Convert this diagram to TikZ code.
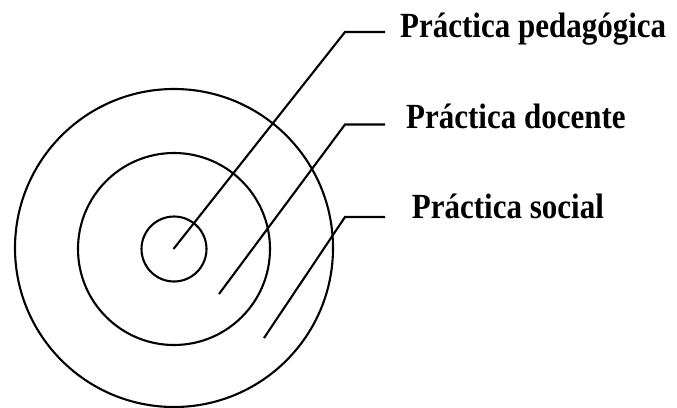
\documentclass[tikz,border=0pt]{standalone}
\usepackage{fontspec}
\setmainfont{Liberation Serif}
\begin{document}
\begin{tikzpicture}[x=1pt,y=-1pt,
  ring/.style={draw=black,line width=2.1pt,circle,inner sep=0pt},
  leader/.style={draw=black,line width=2.1pt},
  lbl/.style={anchor=base west,inner sep=0pt,font=\fontsize{31}{36}\selectfont\bfseries}]
\useasboundingbox (0,0) rectangle (677,407);
\node[ring,minimum size=318pt] (outer) at (174,248) {};
\node[ring,minimum size=192pt] (middle) at (174,249) {};
\node[ring,minimum size=65pt] (inner) at (174,249) {};
\coordinate (p1) at (173.5,249);
\coordinate (p2) at (219,294);
\coordinate (p3) at (264,338);
\coordinate (b1) at (345,32);
\coordinate (b2) at (345,124.5);
\coordinate (b3) at (345,217);
\coordinate (e1) at (385,32);
\coordinate (e2) at (385,124.5);
\coordinate (e3) at (385,217);
\node[lbl] (t1) at (400,37.3) {\scalebox{1}[1.14]{Práctica pedagógica}};
\node[lbl] (t2) at (406,128.3) {\scalebox{1}[1.14]{Práctica docente}};
\node[lbl] (t3) at (411.7,218.3) {\scalebox{1}[1.14]{Práctica social}};
\draw[leader] (p1) -- (b1) -- (e1);
\draw[leader] (p2) -- (b2) -- (e2);
\draw[leader] (p3) -- (b3) -- (e3);
\end{tikzpicture}
\end{document}
